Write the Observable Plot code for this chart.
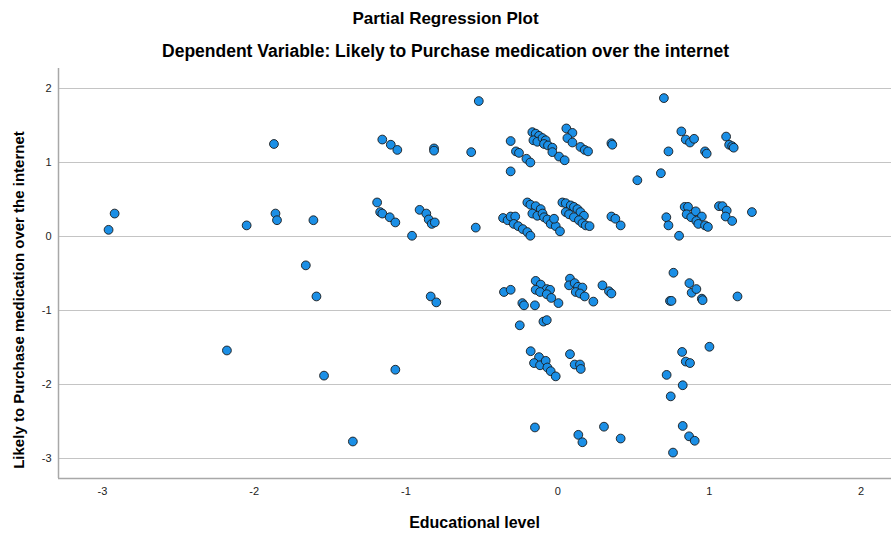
<!DOCTYPE html>
<html><head><meta charset="utf-8">
<script src="https://cdn.jsdelivr.net/npm/d3@7"></script>
<script src="https://cdn.jsdelivr.net/npm/@observablehq/plot@0.6"></script>
<style>
body{margin:0;background:#fff;font-family:"Liberation Sans",Arial,sans-serif}
#wrap{position:relative;width:891px;height:533px;overflow:hidden}
.t{position:absolute;left:0;width:891px;text-align:center;font-weight:bold;color:#000;white-space:nowrap;line-height:1.2}
#ylab{position:absolute;left:18px;top:300px;transform:translate(-50%,-50%) rotate(-90deg);font-weight:bold;font-size:15px;white-space:nowrap}
#chart{position:absolute;left:0;top:0}
</style></head><body>
<div id="wrap">
<div id="chart"></div>
<div class="t" style="top:9px;font-size:17px">Partial Regression Plot</div>
<div class="t" style="top:41px;font-size:17.5px">Dependent Variable: Likely to Purchase medication over the internet</div>
<div class="t" style="top:513px;left:58px;width:833px;font-size:16px">Educational level</div>
<div id="ylab">Likely to Purchase medication over the internet</div>
</div>
<script>
const xTicks = [-3, -2, -1, 0, 1, 2];
const yTicks = [-3, -2, -1, 0, 1, 2];
const xDomain = [-3.29, 2.2];
const yDomain = [-3.27, 2.27];

const education = [
-2.92,-2.96,-2.05,-1.87,-1.86,-1.85,-1.61,-1.66,-1.59,-2.18,-1.54,-1.35,
-0.52,-1.156,-1.10,-1.057,-0.815,-0.815,-0.57,-0.31,-0.275,-0.255,-0.206,-0.18,-0.31,
-1.19,-1.17,-1.156,-1.107,-1.07,-0.96,-0.91,-0.866,-0.85,-0.83,-0.81,-0.54,
-0.36,-0.33,-0.31,-0.28,-0.29,-0.26,-0.23,-0.20,-0.18,-0.20,-0.18,
-0.167,-0.145,-0.123,-0.16,-0.134,-0.10,-0.079,-0.09,-0.064,-0.035,-0.035,0.009,0.046,0.057,0.097,0.064,0.097,0.15,0.178,0.20,0.354,0.36,0.525,
-0.145,-0.112,-0.167,-0.134,-0.10,-0.09,-0.068,-0.046,-0.013,0.015,-0.024,0.031,0.053,0.086,0.107,0.13,0.15,0.173,0.053,0.075,0.107,0.14,0.163,0.185,0.21,0.354,0.38,0.415,
0.70,0.815,0.844,0.872,0.899,0.73,0.971,0.982,1.11,1.13,1.15,1.16,0.68,0.716,0.73,0.80,0.837,0.859,0.85,0.88,0.91,0.95,0.914,0.927,0.971,0.99,1.063,1.086,1.114,1.107,1.15,1.28,
-0.837,-0.80,-0.354,-0.31,-0.233,-0.222,-0.15,-0.145,-0.112,-0.072,-0.05,-0.145,-0.116,-0.072,-0.042,0.005,0.081,0.075,0.112,0.134,0.163,0.119,0.147,0.178,0.235,0.295,0.338,0.354,0.763,0.74,0.75,0.868,0.883,0.914,0.95,0.955,1.185,
-0.25,-0.094,-0.072,-0.178,-0.123,-0.156,-0.116,-0.079,-0.068,-0.046,-0.013,0.081,0.112,0.147,0.152,0.718,0.745,1.00,0.82,0.844,0.872,0.824,
-1.07,-0.15,0.136,0.163,0.305,0.415,0.76,0.824,0.866,0.903
];
const likely = [
0.31,0.09,0.15,1.25,0.31,0.22,0.22,-0.39,-0.81,-1.54,-1.88,-2.77,
1.83,1.31,1.24,1.17,1.19,1.16,1.14,1.29,1.15,1.13,1.05,1.00,0.88,
0.46,0.33,0.31,0.26,0.19,0.01,0.36,0.31,0.23,0.17,0.19,0.12,
0.25,0.22,0.27,0.27,0.17,0.14,0.10,0.06,0.01,0.46,0.43,
1.41,1.39,1.36,1.30,1.28,1.33,1.30,1.25,1.23,1.20,1.14,1.08,1.03,1.46,1.40,1.33,1.27,1.21,1.17,1.15,1.26,1.24,0.76,
0.41,0.37,0.31,0.28,0.31,0.26,0.23,0.17,0.14,0.07,0.24,0.46,0.45,0.42,0.40,0.37,0.33,0.28,0.33,0.30,0.26,0.22,0.18,0.15,0.14,0.27,0.24,0.15,
1.87,1.42,1.31,1.27,1.32,1.15,1.15,1.12,1.35,1.24,1.22,1.20,0.855,0.26,0.15,0.01,0.40,0.40,0.30,0.26,0.34,0.27,0.21,0.17,0.15,0.13,0.41,0.41,0.35,0.27,0.21,0.33,
-0.81,-0.89,-0.75,-0.72,-0.90,-0.93,-0.93,-0.60,-0.65,-0.71,-0.72,-0.72,-0.75,-0.78,-0.83,-0.90,-0.57,-0.66,-0.63,-0.68,-0.69,-0.75,-0.77,-0.81,-0.88,-0.66,-0.74,-0.77,-0.49,-0.87,-0.87,-0.63,-0.76,-0.71,-0.84,-0.86,-0.81,
-1.20,-1.15,-1.13,-1.55,-1.63,-1.71,-1.74,-1.68,-1.77,-1.82,-1.89,-1.59,-1.73,-1.73,-1.79,-1.87,-2.16,-1.49,-1.56,-1.69,-1.71,-2.01,
-1.80,-2.58,-2.68,-2.78,-2.57,-2.73,-2.92,-2.56,-2.70,-2.76
];

const data = education.map((x, i) => ({x, y: likely[i]}));
const fmt = d => String(d);

const chart = Plot.plot({
  width: 891,
  height: 533,
  marginTop: 68,
  marginBottom: 55,
  marginLeft: 58,
  marginRight: 0,
  style: {fontFamily: '"Liberation Sans", Arial, sans-serif', fontSize: "11px", color: "#222", background: "transparent"},
  x: {domain: xDomain, ticks: xTicks, label: null},
  y: {domain: yDomain, ticks: yTicks, label: null},
  marks: [
    Plot.gridY(yTicks, {stroke: "#c4c4c4", strokeOpacity: 1, strokeWidth: 1.2}),
    Plot.ruleX([xDomain[0]], {stroke: "#a8a8a8", strokeWidth: 1.5}),
    Plot.ruleY([yDomain[0]], {stroke: "#a8a8a8", strokeWidth: 1.5}),
    Plot.axisX(xTicks, {tickSize: 0, tickPadding: 9, label: null, fontSize: 11, tickFormat: fmt}),
    Plot.axisY(yTicks, {tickSize: 0, tickPadding: 7, label: null, fontSize: 11, tickFormat: fmt}),
    Plot.dot(data, {x: "x", y: "y", r: 4.4, fill: "#1b8fe6", stroke: "#1a1a1a", strokeWidth: 0.9})
  ]
});
document.getElementById("chart").appendChild(chart);
</script>
</body></html>
